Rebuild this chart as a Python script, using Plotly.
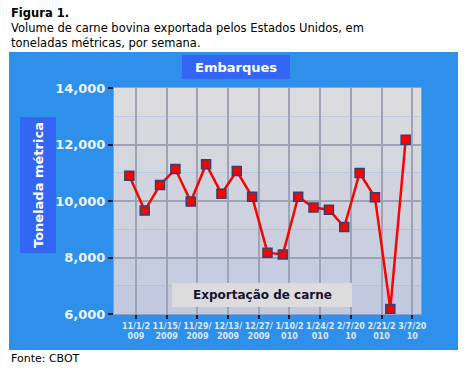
import plotly.graph_objects as go

# ---- data ----
week_dates = ["2009-10-29", "2009-11-05", "2009-11-12", "2009-11-19", "2009-11-26",
              "2009-12-03", "2009-12-10", "2009-12-17", "2009-12-24", "2009-12-31",
              "2010-01-07", "2010-01-14", "2010-01-21", "2010-01-28", "2010-02-04",
              "2010-02-11", "2010-02-18", "2010-02-25", "2010-03-04"]
export_tonnes = [10890, 9660, 10570, 11130, 9980, 11300, 10260, 11060, 10150, 8170,
                 8110, 10150, 9770, 9690, 9080, 10990, 10130, 6180, 12170]
tick_dates = ["2009-11-01", "2009-11-15", "2009-11-29", "2009-12-13", "2009-12-27",
              "2010-01-10", "2010-01-24", "2010-02-07", "2010-02-21", "2010-03-07"]
tick_labels = ["11/1/2<br>009", "11/15/<br>2009", "11/29/<br>2009", "12/13/<br>2009",
               "12/27/<br>2009", "1/10/2<br>010", "1/24/2<br>010", "2/7/20<br>10",
               "2/21/2<br>010", "3/7/20<br>10"]
y_ticks = [6000, 8000, 10000, 12000, 14000]
y_tick_labels = ["6,000", "8,000", "10,000", "12,000", "14,000"]

W, H = 466, 368
L, R, T, B = 114, 421, 88, 314
pw, ph = R - L, B - T

def px(x):
    return (x - L) / pw

def py(y):
    return (B - y) / ph

FONT = "DejaVu Sans"
BG_BLUE = "#2e90ea"
BOX_BLUE = "#3466f6"

fig = go.Figure()
fig.add_trace(go.Scatter(
    x=week_dates, y=export_tonnes, mode="lines+markers",
    line=dict(color="#ff0000", width=2.5),
    marker=dict(symbol="square", size=9, color="#ff0000",
                line=dict(color="#34416e", width=1.5)),
    showlegend=False, cliponaxis=False,
))

shapes = []
# blue panel
shapes.append(dict(type="rect", xref="paper", yref="paper", layer="below",
                   x0=px(9), x1=px(458), y0=py(350), y1=py(52),
                   fillcolor=BG_BLUE, line=dict(width=0)))
# gradient bands of plot background
top = (220, 220, 222)
bot = (195, 202, 224)
n = 8
for i in range(n):
    f = i / (n - 1)
    c = tuple(round(top[k] + (bot[k] - top[k]) * f) for k in range(3))
    shapes.append(dict(type="rect", xref="x domain", yref="y domain", layer="below",
                       x0=0, x1=1, y0=1 - (i + 1) / n, y1=1 - i / n,
                       fillcolor="rgb(%d,%d,%d)" % c, line=dict(width=0)))
# title box
shapes.append(dict(type="rect", xref="paper", yref="paper", layer="below",
                   x0=px(182), x1=px(290), y0=py(79), y1=py(55),
                   fillcolor=BOX_BLUE, line=dict(width=0)))
# y title box
shapes.append(dict(type="rect", xref="paper", yref="paper", layer="below",
                   x0=px(20), x1=px(56), y0=py(253), y1=py(117),
                   fillcolor=BOX_BLUE, line=dict(width=0)))
# legend box
shapes.append(dict(type="rect", xref="paper", yref="paper", layer="above",
                   x0=px(172), x1=px(352), y0=py(307), y1=py(283),
                   fillcolor="#dcdcdc", line=dict(width=0)))

annotations = [
    dict(text="<b>Figura 1.</b>", xref="paper", yref="paper", x=px(9), y=py(13),
         xanchor="left", yanchor="middle", showarrow=False,
         font=dict(family=FONT, size=11.5, color="#000")),
    dict(text="Volume de carne bovina exportada pelos Estados Unidos, em",
         xref="paper", yref="paper", x=px(9), y=py(28),
         xanchor="left", yanchor="middle", showarrow=False,
         font=dict(family=FONT, size=11.5, color="#000")),
    dict(text="toneladas métricas, por semana.",
         xref="paper", yref="paper", x=px(9), y=py(43),
         xanchor="left", yanchor="middle", showarrow=False,
         font=dict(family=FONT, size=11.5, color="#000")),
    dict(text="Fonte: CBOT", xref="paper", yref="paper", x=px(9), y=py(358),
         xanchor="left", yanchor="middle", showarrow=False,
         font=dict(family=FONT, size=11, color="#000")),
    dict(text="<b>Embarques</b>", xref="paper", yref="paper", x=px(236), y=py(67),
         xanchor="center", yanchor="middle", showarrow=False,
         font=dict(family=FONT, size=13, color="#ffffff")),
    dict(text="<b>Tonelada métrica</b>", xref="paper", yref="paper", x=px(38), y=py(185),
         xanchor="center", yanchor="middle", showarrow=False, textangle=-90,
         font=dict(family=FONT, size=13, color="#ffffff")),
    dict(text="<b>Exportação de carne</b>", xref="paper", yref="paper", x=px(262), y=py(295),
         xanchor="center", yanchor="middle", showarrow=False,
         font=dict(family=FONT, size=12, color="#1a1030")),
]

fig.update_layout(
    width=W, height=H,
    margin=dict(l=L, r=W - R, t=T, b=H - B, pad=0),
    paper_bgcolor="#ffffff", plot_bgcolor="rgba(0,0,0,0)",
    shapes=shapes, annotations=annotations,
    xaxis=dict(type="date", range=["2009-10-22", "2010-03-11"],
               tickvals=tick_dates,
               ticktext=["<b>%s</b>" % t for t in tick_labels],
               tickangle=0,
               showgrid=True, gridcolor="#9ea2b4", gridwidth=1.5,
               ticks="outside", ticklen=4, tickcolor="#1a1a3a", tickwidth=2,
               tickfont=dict(family=FONT, size=8, color="#dde8f8"),
               showline=True, linecolor="#8aa0c8", linewidth=1, mirror=True,
               zeroline=False, fixedrange=True),
    yaxis=dict(range=[6000, 14000], tickvals=y_ticks,
               ticktext=["<b>%s</b>" % t for t in y_tick_labels],
               showgrid=True, gridcolor="#9ea2b4", gridwidth=1.5,
               ticks="outside", ticklen=5, tickcolor="#1a1a3a", tickwidth=2,
               tickfont=dict(family=FONT, size=13, color="#eef3fc"),
               showline=True, linecolor="#8aa0c8", linewidth=1, mirror=True,
               zeroline=False, fixedrange=True),
)

fig.write_html("out.html", config={"displayModeBar": False},
               post_script="document.body.style.margin='0';document.body.style.padding='0';")
